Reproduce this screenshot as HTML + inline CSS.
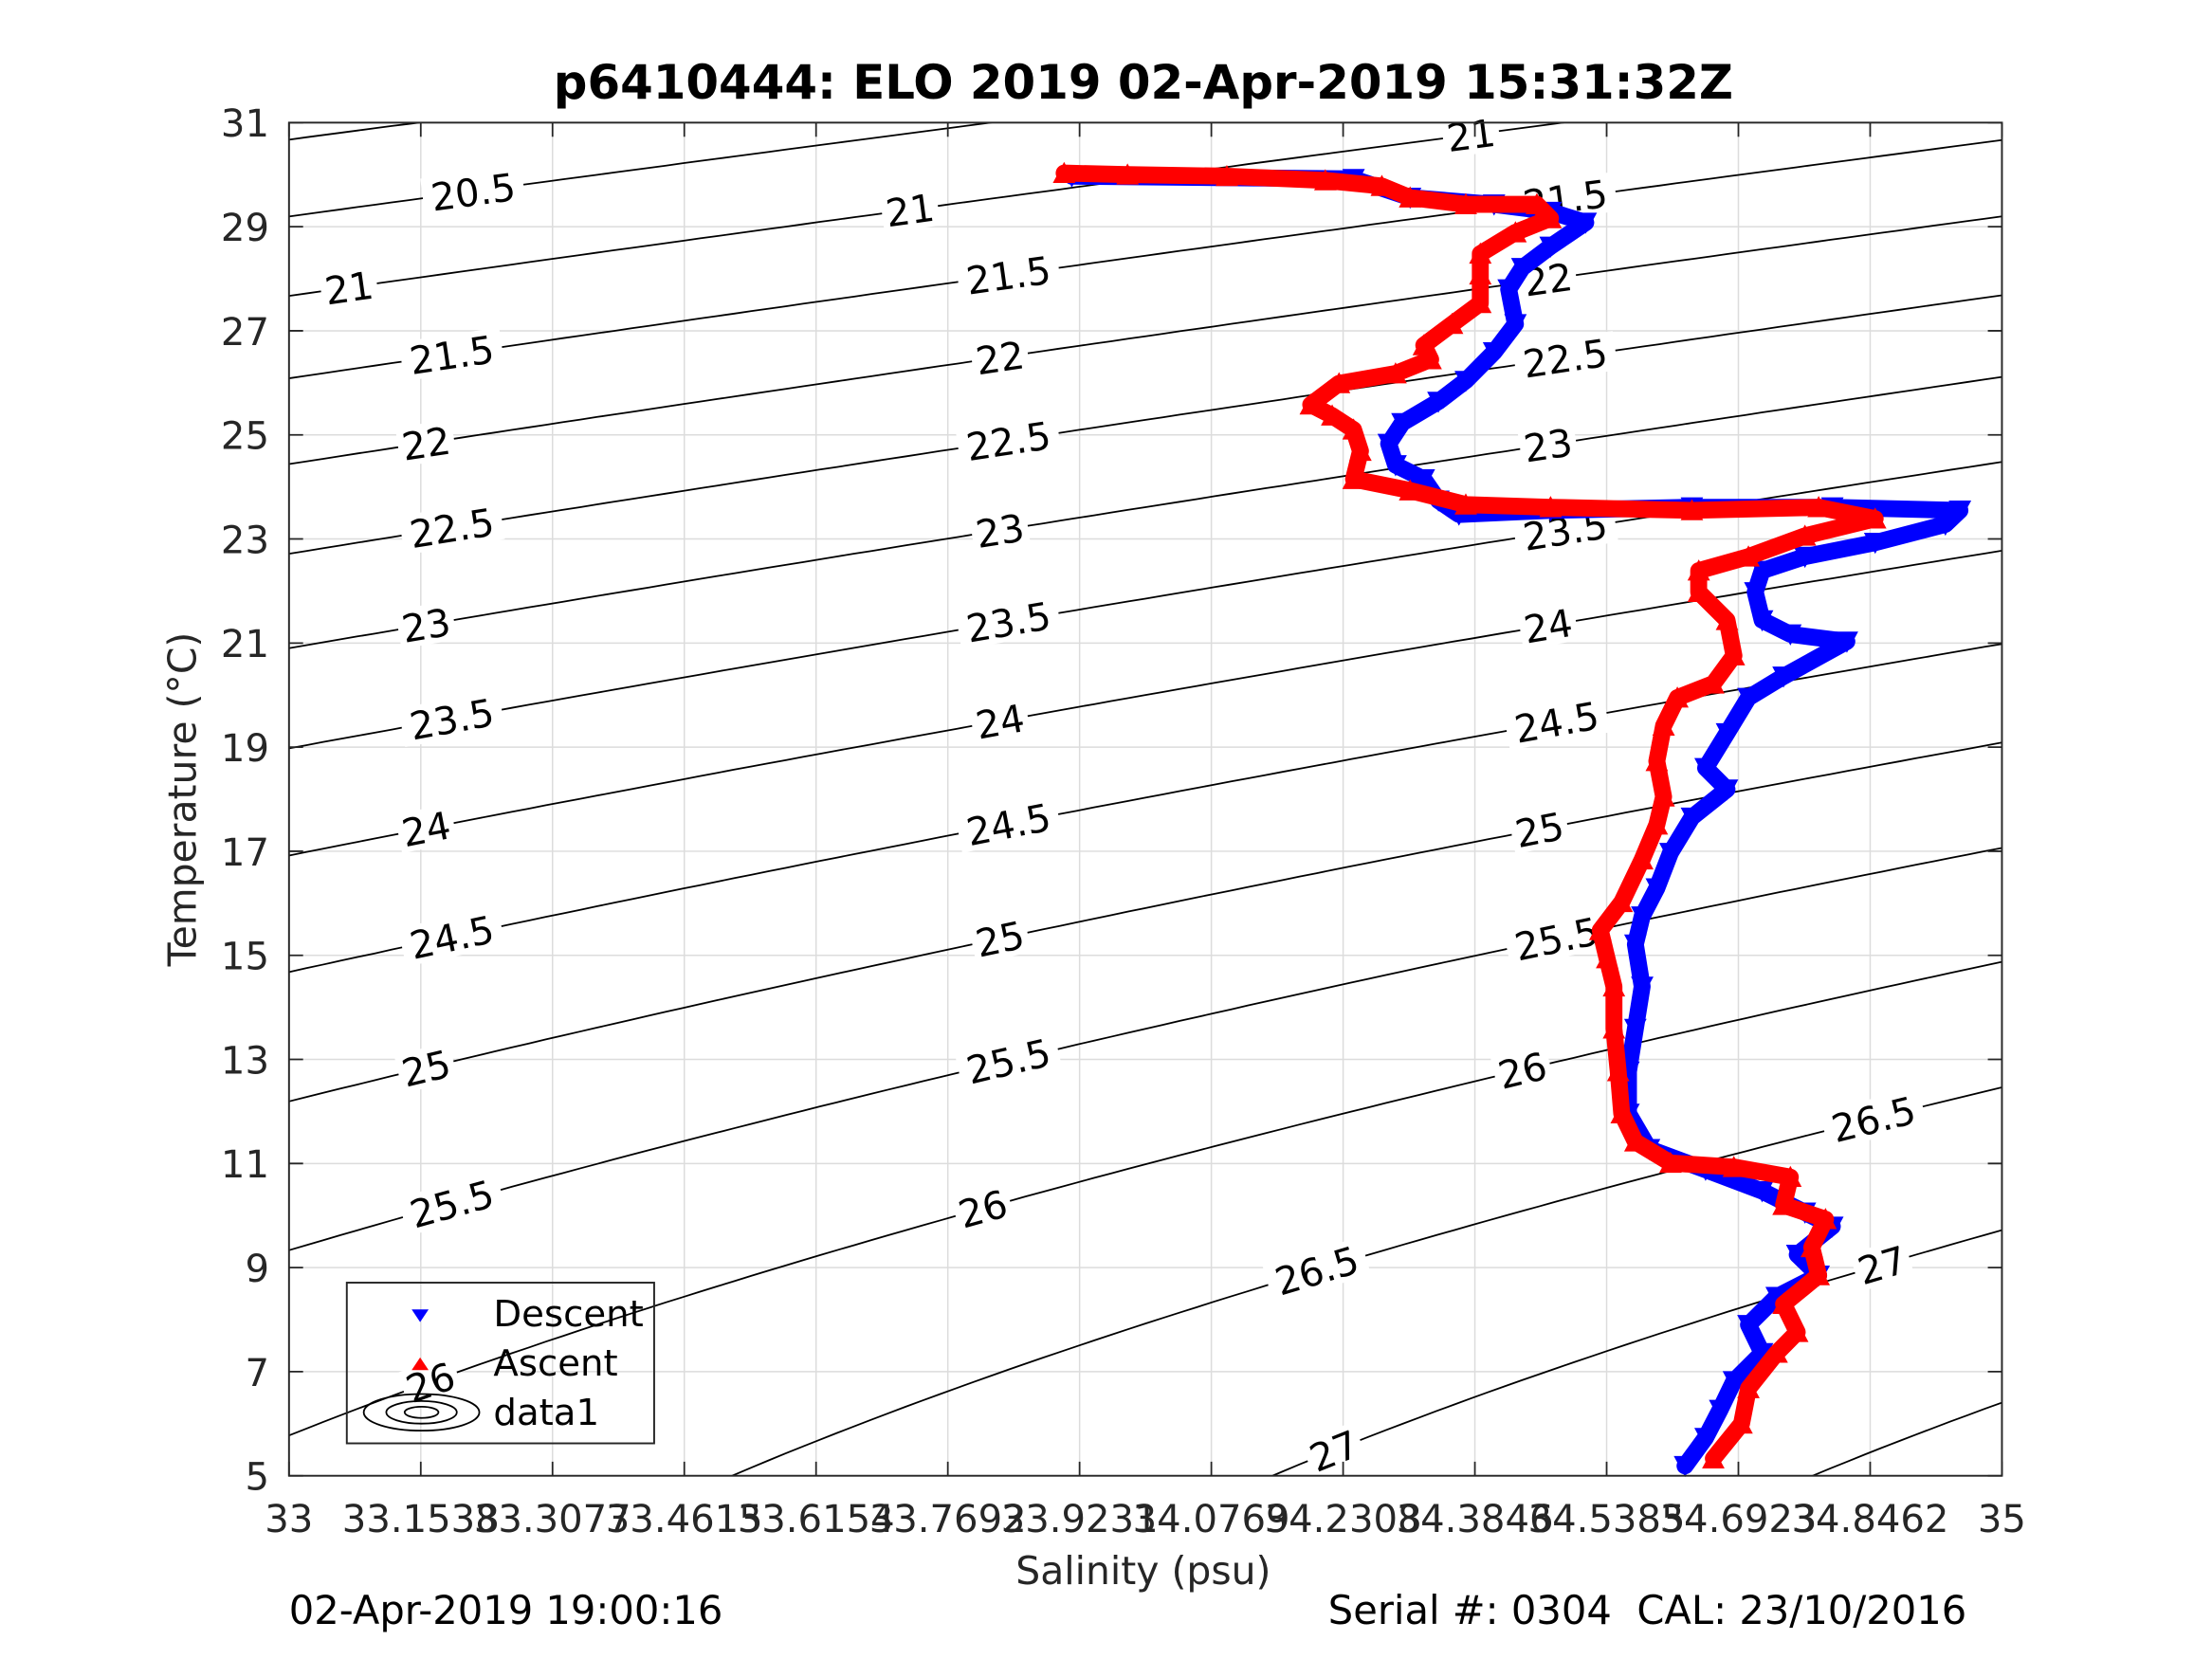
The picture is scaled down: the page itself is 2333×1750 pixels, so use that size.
<!DOCTYPE html>
<html><head><meta charset="utf-8"><style>
html,body{margin:0;padding:0;background:#fff;overflow:hidden;width:2333px;height:1750px;position:relative;}
svg{display:block;position:absolute;left:0;top:0;font-family:"DejaVu Sans","Liberation Sans",sans-serif;}
</style></head><body>
<svg id="chart" width="2333" height="1750" viewBox="0 0 1569 1177" preserveAspectRatio="none" xmlns="http://www.w3.org/2000/svg">
<rect x="0" y="0" width="1569" height="1177" fill="#fff"/>
<text x="811" y="70" text-anchor="middle" font-size="33.5" font-weight="bold" fill="#000">p6410444: ELO 2019 02-Apr-2019 15:31:32Z</text>
<rect x="205" y="87" width="1215" height="960" fill="#fff"/>
<g id="grid"></g>
<g id="contours"></g>
<g id="series"></g>
<g id="axes"></g>
<text x="811" y="1124" text-anchor="middle" font-size="27.5" fill="#262626">Salinity (psu)</text>
<text transform="translate(139,567) rotate(-90)" text-anchor="middle" font-size="27.5" fill="#262626">Temperature (°C)</text>
<text x="205" y="1152" font-size="28" fill="#000">02-Apr-2019 19:00:16</text>
<text x="1395" y="1152" text-anchor="end" font-size="28" fill="#000" xml:space="preserve">Serial #: 0304  CAL: 23/10/2016</text>
<g>
<rect x="246" y="910" width="218" height="114" fill="none" stroke="#262626" stroke-width="1.3"/>
<path d="M292,929 L304,929 L298,938 Z" fill="#00f"/>
<text x="350" y="941" font-size="26" fill="#000">Descent</text>
<path d="M292,972 L304,972 L298,963 Z" fill="#f00"/>
<text x="350" y="976" font-size="26" fill="#000">Ascent</text>
<g fill="none" stroke="#000" stroke-width="1.2">
<ellipse cx="299" cy="1002" rx="41" ry="13"/><ellipse cx="299" cy="1002" rx="25" ry="8"/><ellipse cx="299" cy="1002" rx="12" ry="4"/></g>
<text x="350" y="1011" font-size="26" fill="#000">data1</text>
</g>
</svg>
<script>
// ---- data ----
const xTickLabels = ["33","33.1538","33.3077","33.4615","33.6154","33.7692","33.9231","34.0769","34.2308","34.3846","34.5385","34.6923","34.8462","35"];
const yTickLabels = [5,7,9,11,13,15,17,19,21,23,25,27,29,31];
const densityLevels = [20,20.5,21,21.5,22,22.5,23,23.5,24,24.5,25,25.5,26,26.5,27,27.5,28];
const labelLevelsLeft = [20.5,21,21.5,22,22.5,23,23.5,24,24.5,25,25.5,26];
const labelSalLeft = [33.215,33.07,33.19,33.16,33.19,33.16,33.19,33.16,33.19,33.16,33.19,33.165];
const labelLevelsMid = [21,21.5,22,22.5,23,23.5,24,24.5,25,25.5,26,26.5,27];
const labelSalMid = [33.725,33.84,33.83,33.84,33.83,33.84,33.83,33.84,33.83,33.84,33.81,34.2,34.22];
const labelLevelsRight = [21,21.5,22,22.5,23,23.5,24,24.5,25,25.5,26,26.5,27];
const labelSalRight = [34.38,34.49,34.47,34.49,34.47,34.49,34.47,34.48,34.46,34.48,34.44,34.85,34.86];
// Descent profile (salinity, temperature)
const descentS = [33.914,34.243,34.309,34.407,34.473,34.514,34.473,34.440,34.424,34.432,34.407,34.374,34.342,34.300,34.284,34.292,34.325,34.342,34.366,34.473,34.638,34.802,34.951,34.934,34.852,34.770,34.720,34.712,34.720,34.753,34.819,34.745,34.704,34.679,34.654,34.679,34.638,34.613,34.597,34.580,34.572,34.580,34.572,34.564,34.564,34.588,34.654,34.720,34.770,34.802,34.761,34.786,34.737,34.704,34.720,34.687,34.671,34.654,34.630];
const descentT = [29.97,29.92,29.56,29.43,29.29,29.08,28.62,28.21,27.80,27.13,26.59,26.04,25.64,25.23,24.83,24.42,24.15,23.74,23.47,23.55,23.61,23.61,23.55,23.28,22.93,22.66,22.39,21.98,21.44,21.17,21.03,20.36,19.95,19.27,18.60,18.19,17.65,16.97,16.29,15.75,15.21,14.40,13.59,12.77,11.96,11.28,10.88,10.47,10.06,9.79,9.25,8.85,8.44,7.90,7.36,6.82,6.27,5.73,5.19];
// Ascent profile (salinity, temperature)
const ascentS = [34.663,34.696,34.704,34.737,34.761,34.745,34.786,34.778,34.794,34.745,34.753,34.687,34.613,34.572,34.556,34.552,34.547,34.547,34.539,34.531,34.556,34.580,34.597,34.605,34.597,34.605,34.621,34.663,34.687,34.679,34.646,34.646,34.704,34.770,34.852,34.786,34.638,34.473,34.374,34.309,34.243,34.251,34.243,34.218,34.193,34.226,34.292,34.333,34.325,34.358,34.391,34.391,34.391,34.432,34.473,34.457,34.374,34.309,34.276,34.210,34.095,33.979,33.905];
const ascentT = [5.33,6.00,6.68,7.36,7.76,8.30,8.85,9.39,9.93,10.20,10.74,10.93,11.01,11.42,11.96,12.77,13.59,14.40,14.94,15.48,16.02,16.84,17.51,18.05,18.73,19.41,19.95,20.22,20.76,21.44,21.98,22.39,22.66,23.06,23.39,23.61,23.55,23.61,23.66,23.93,24.15,24.69,25.10,25.37,25.58,25.99,26.18,26.45,26.72,27.13,27.53,28.08,28.48,28.89,29.16,29.43,29.43,29.56,29.78,29.89,29.97,30.0,30.03];

// ---- axes ----
const X0=205,X1=1420,Y0=1047,Y1=87,SMIN=33,SMAX=35,TMIN=5,TMAX=31;
const sx=s=>X0+(s-SMIN)/(SMAX-SMIN)*(X1-X0);
const ty=t=>Y0-(t-TMIN)/(TMAX-TMIN)*(Y0-Y1);
const NS='http://www.w3.org/2000/svg';
function mk(tag,attrs,parent){const e=document.createElementNS(NS,tag);for(const k in attrs)e.setAttribute(k,attrs[k]);parent.appendChild(e);return e;}
const grid=document.getElementById('grid'),axes=document.getElementById('axes'),cont=document.getElementById('contours'),ser=document.getElementById('series');

xTickLabels.forEach((lab,i)=>{
  const x=X0+i*(X1-X0)/(xTickLabels.length-1);
  const g=mk('line',{x1:x,x2:x,y1:Y1,y2:Y0,stroke:'#dcdcdc','stroke-width':1},grid);
  
  
  const tk=mk('path',{d:`M${x},${Y0}v-10M${x},${Y1}v10`,stroke:'#262626','stroke-width':1.2},axes);
  
  
  const t=mk('text',{x:x,y:1087,'text-anchor':'middle','font-size':27,fill:'#262626'},axes);
  t.textContent=lab;
  
  
});
yTickLabels.forEach(v=>{
  const y=ty(v);
  const g=mk('line',{x1:X0,x2:X1,y1:y,y2:y,stroke:'#dcdcdc','stroke-width':1},grid);
  
  
  const tk=mk('path',{d:`M${X0},${y}h10M${X1},${y}h-10`,stroke:'#262626','stroke-width':1.2},axes);
  
  
  const t=mk('text',{x:191,y:y+10,'text-anchor':'end','font-size':27,fill:'#262626'},axes);
  t.textContent=String(v);
  
  
});
const frame=mk('rect',{x:X0,y:Y1,width:X1-X0,height:Y0-Y1,fill:'none',stroke:'#262626','stroke-width':1.3},axes);



// ---- density (UNESCO EOS80, p=0) ----
function sigma(S,T){
  const rw=999.842594+6.793952e-2*T-9.095290e-3*T*T+1.001685e-4*T**3-1.120083e-6*T**4+6.536332e-9*T**5;
  return rw+S*(0.824493-4.0899e-3*T+7.6438e-5*T*T-8.2467e-7*T**3+5.3875e-9*T**4)+S**1.5*(-5.72466e-3+1.0227e-4*T-1.6546e-6*T*T)+4.8314e-4*S*S-1000;
}
function tAt(level,S){let lo=-2,hi=40;for(let i=0;i<50;i++){const m=(lo+hi)/2;if(sigma(S,m)>level)lo=m;else hi=m;}return (lo+hi)/2;}
const clip=mk('clipPath',{id:'pc'},cont);mk('rect',{x:X0,y:Y1,width:X1-X0,height:Y0-Y1},clip);
densityLevels.forEach(L=>{
  let d='';
  for(let i=0;i<=100;i++){const S=SMIN+i*(SMAX-SMIN)/100;d+=(i?'L':'M')+sx(S).toFixed(1)+','+ty(tAt(L,S)).toFixed(1);}
  const p=mk('path',{d:d,fill:'none',stroke:'#000','stroke-width':1.2,'clip-path':'url(#pc)'},cont);
  
  
});
function addLabel(L,S){
  const T=tAt(L,S);if(T<TMIN+0.1||T>TMAX-0.1)return;
  const x=sx(S),y=ty(T);
  const x2=sx(S+0.02),y2=ty(tAt(L,S+0.02));
  const ang=Math.atan2(y2-y,x2-x)*180/Math.PI;
  const g=mk('g',{transform:`translate(${x},${y}) rotate(${ang})`},cont);
  
  
  const txt=String(L);const w=txt.length*16+8;
  mk('rect',{x:-w/2,y:-14,width:w,height:28,fill:'#fff'},g);
  const t=mk('text',{x:0,y:10,'text-anchor':'middle','font-size':27,fill:'#000'},g);t.textContent=txt;
}
labelLevelsLeft.forEach((L,i)=>addLabel(L,labelSalLeft[i]));
labelLevelsMid.forEach((L,i)=>addLabel(L,labelSalMid[i]));
labelLevelsRight.forEach((L,i)=>addLabel(L,labelSalRight[i]));

// ---- series ----
function drawSeries(Sarr,Tarr,color,down,name){
  const g=mk('g',{},ser);
  
  
  let d='';Sarr.forEach((s,i)=>{d+=(i?'L':'M')+sx(s).toFixed(1)+','+ty(Tarr[i]).toFixed(1);});
  mk('path',{d:d,fill:'none',stroke:color,'stroke-width':12,'stroke-linejoin':'round','stroke-linecap':'round'},g);
  Sarr.forEach((s,i)=>{
    const x=sx(s),y=ty(Tarr[i]);
    const m=mk('path',{d:down?`M${x-8},${y-7}L${x+8},${y-7}L${x},${y+8}Z`:`M${x-8},${y+7}L${x+8},${y+7}L${x},${y-8}Z`,fill:color},g);
    
    
  });
}
drawSeries(descentS,descentT,'#0000ff',true,'descent-series');
drawSeries(ascentS,ascentT,'#ff0000',false,'ascent-series');
</script>
</body></html>
